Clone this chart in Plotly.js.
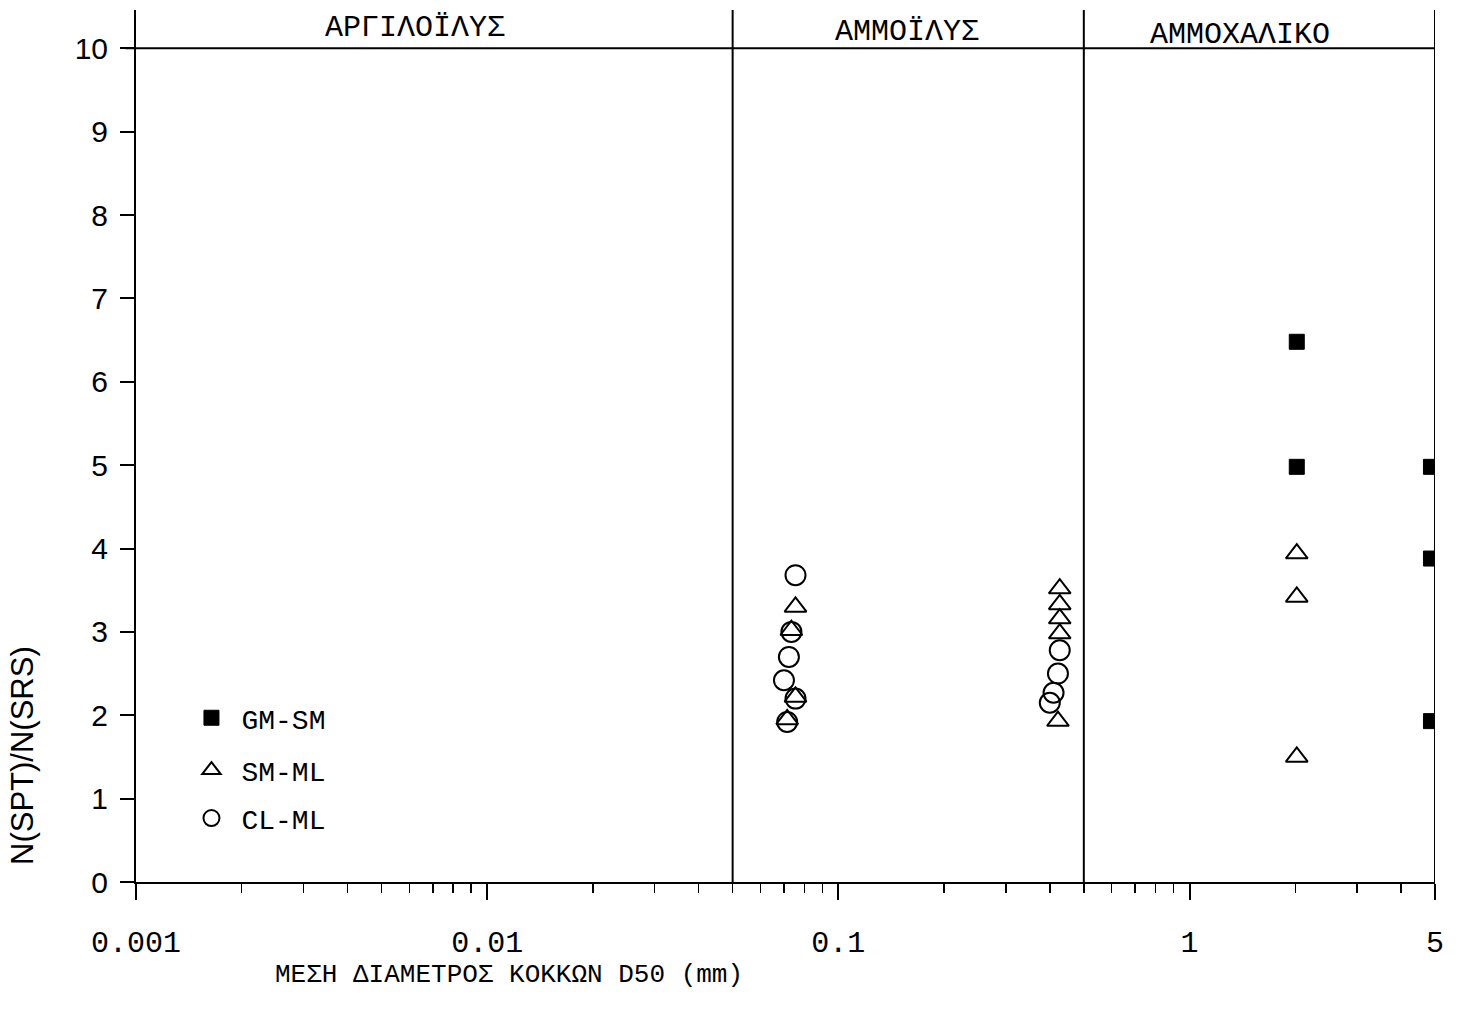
<!DOCTYPE html>
<html>
<head>
<meta charset="utf-8">
<script src="https://cdn.plot.ly/plotly-3.0.1.min.js"></script>
<style>html,body{margin:0;padding:0;background:#fff;}#chart{width:1461px;height:1023px;}</style>
</head>
<body>
<div id="chart"></div>
<script>
// ---- data ----
const gmsmX = [2.02, 2.02, 4.87, 4.87, 4.87];
const gmsmY = [6.48, 4.98, 4.98, 3.88, 1.93];

const smmlX = [0.0755, 0.0735, 0.0755, 0.0715, 0.427, 0.427, 0.427, 0.427, 0.422, 2.02, 2.02, 2.02];
const smmlY = [3.30, 3.02, 2.22, 1.95, 3.52, 3.33, 3.16, 2.98, 1.93, 3.94, 3.42, 1.50];

const clmlX = [0.0755, 0.0735, 0.0723, 0.0700, 0.0755, 0.0715, 0.427, 0.422, 0.410, 0.400];
const clmlY = [3.68, 3.00, 2.70, 2.42, 2.20, 1.92, 2.78, 2.50, 2.27, 2.15];

const seriesNames = ['GM-SM', 'SM-ML', 'CL-ML'];
const boundaries = [0.05, 0.5];
const xMax = 5;
const yTop = 10;
const xTickVals = [0.001, 0.01, 0.1, 1, 5];
const xTickText = ['0.001', '0.01', '0.1', '1', '5'];
const xMinorVals = [0.002,0.003,0.004,0.005,0.006,0.007,0.008,0.009,
                    0.02,0.03,0.04,0.05,0.06,0.07,0.08,0.09,
                    0.2,0.3,0.4,0.5,0.6,0.7,0.8,0.9,
                    2,3,4];
const yTickVals = [0,1,2,3,4,5,6,7,8,9,10];
const zoneLabels = ['ΑΡΓΙΛΟΪΛΥΣ', 'ΑΜΜΟΪΛΥΣ', 'ΑΜΜΟΧΑΛΙΚΟ'];
const xTitle = 'ΜΕΣΗ ΔΙΑΜΕΤΡΟΣ ΚΟΚΚΩΝ D50 (mm)';
const yTitle = 'N(SPT)/N(SRS)';

const mono = 'Liberation Mono, Courier New, monospace';
const sans = 'Liberation Sans, Arial, sans-serif';

const traces = [
  {x: gmsmX, y: gmsmY, name: seriesNames[0], type: 'scatter', mode: 'markers', legend: 'legend',
   marker: {symbol: 'square', size: 15, color: '#000', line: {color: '#000', width: 1}}},
  {x: smmlX, y: smmlY, name: seriesNames[1], type: 'scatter', mode: 'markers', legend: 'legend2',
   marker: {symbol: 'triangle-up-open', size: 19, color: '#000', line: {color: '#000', width: 2}}},
  {x: clmlX, y: clmlY, name: seriesNames[2], type: 'scatter', mode: 'markers', legend: 'legend3',
   marker: {symbol: 'circle-open', size: 20, color: '#000', line: {color: '#000', width: 2}}}
];

const legendBase = {xanchor: 'left', yanchor: 'middle', bgcolor: 'rgba(0,0,0,0)', itemwidth: 50,
  font: {family: mono, size: 28, color: '#000'}, itemclick: false, itemdoubleclick: false};

const shapes = [];
boundaries.concat([xMax]).forEach(b => {
  shapes.push({type: 'line', xref: 'x', yref: 'paper', x0: b, x1: b, y0: 0, y1: 1,
               line: {color: '#000', width: 2}});
});
shapes.push({type: 'line', xref: 'paper', yref: 'y', x0: -0.008, x1: 1, y0: yTop, y1: yTop,
             line: {color: '#000', width: 2}});

const ann = (x, y, text, font, extra) => Object.assign({xref: 'paper', yref: 'paper', x: x, y: y, text: text,
  showarrow: false, xanchor: 'center', yanchor: 'middle', font: font}, extra || {});

const layout = {
  width: 1461, height: 1023,
  margin: {l: 136, r: 26, t: 10, b: 141},
  paper_bgcolor: '#fff', plot_bgcolor: '#fff',
  showlegend: true,
  xaxis: {
    type: 'log', range: [-3, Math.log10(xMax)],
    tickmode: 'array', tickvals: xTickVals, ticktext: xTickText,
    ticks: 'outside', ticklen: 16, tickwidth: 2, tickcolor: '#000',
    showline: true, linewidth: 2, linecolor: '#000', showgrid: false, zeroline: false,
    tickfont: {family: mono, size: 30, color: '#000'}, ticklabelstandoff: 16,
    minor: {tickmode: 'array', tickvals: xMinorVals, ticks: 'outside', ticklen: 9, tickwidth: 1.5, tickcolor: '#000', showgrid: false}
  },
  yaxis: {
    range: [0, 10.46], tickmode: 'array', tickvals: yTickVals,
    ticks: 'outside', ticklen: 14, tickwidth: 2, tickcolor: '#000',
    showline: true, linewidth: 2, linecolor: '#000', showgrid: false, zeroline: false,
    tickfont: {family: sans, size: 30, color: '#000'}, ticklabelstandoff: 6
  },
  legend: Object.assign({}, legendBase, {x: 0.035, y: 0.188}),
  legend2: Object.assign({}, legendBase, {x: 0.035, y: 0.128}),
  legend3: Object.assign({}, legendBase, {x: 0.035, y: 0.073}),
  shapes: shapes,
  annotations: [
    ann(0.2148, 0.979, zoneLabels[0], {family: mono, size: 30, color: '#000'}),
    ann(0.5935, 0.975, zoneLabels[1], {family: mono, size: 30, color: '#000'}),
    ann(0.8499, 0.971, zoneLabels[2], {family: mono, size: 30, color: '#000'}),
    ann(0.287, -0.1067, xTitle, {family: mono, size: 26, color: '#000'}),
    ann(-0.0878, 0.1456, yTitle, {family: sans, size: 31, color: '#000'}, {textangle: -90})
  ]
};

Plotly.newPlot('chart', traces, layout, {displayModeBar: false, staticPlot: true});
</script>
</body>
</html>
